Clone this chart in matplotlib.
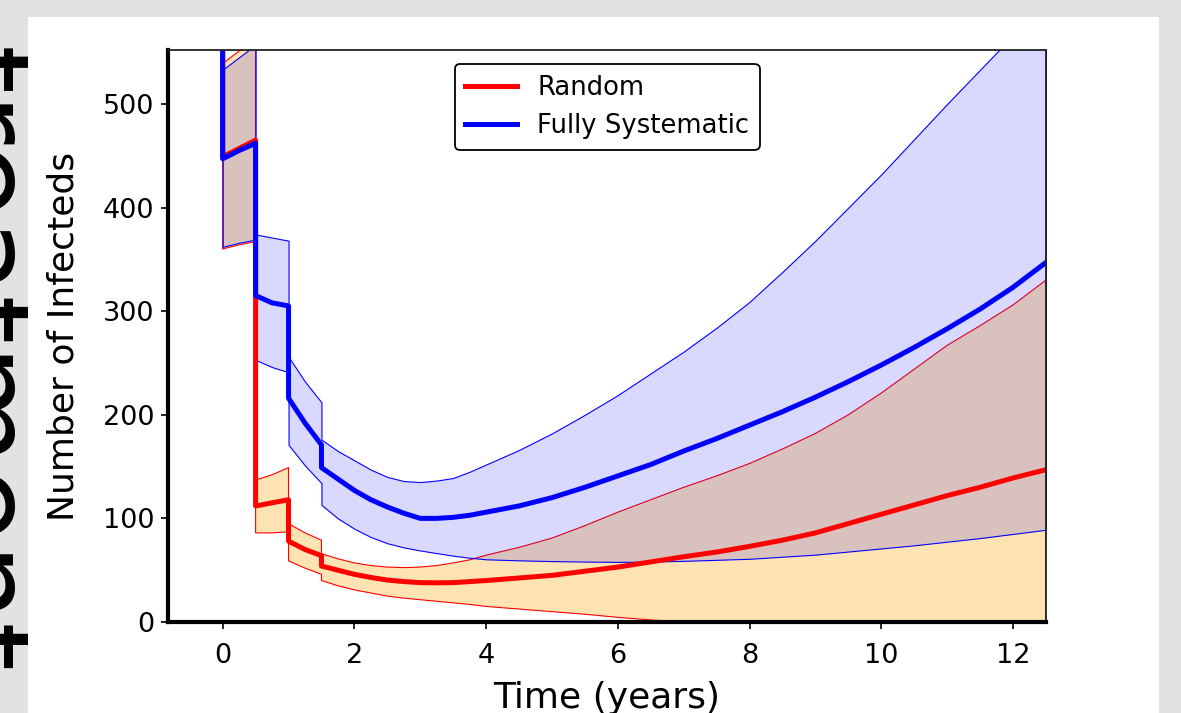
import matplotlib.pyplot as plt
from matplotlib.patches import Rectangle


# time points (years); repeated points are the treatment pulses
t = [0, 0, 0.25, 0.5, 0.5, 0.75, 1.0, 1.0, 1.25, 1.5, 1.5, 1.75, 2.0, 2.25,
     2.5, 2.75, 3.0, 3.25, 3.5, 3.75, 4.0, 4.5, 5.0, 5.5, 6.0, 6.5, 7.0, 7.5,
     8.0, 8.5, 9.0, 9.5, 10.0, 10.5, 11.0, 11.5, 12.0, 12.5]

# Random strategy: mean and band
rnd_mean = [620, 449, 457, 465, 112, 115, 118, 78, 70, 64, 54, 50, 46, 43,
            40.5, 39, 38, 37.8, 38, 39, 40, 42.5, 45, 49, 53, 58, 63, 67.5,
            73, 79, 86, 95, 104, 113, 122, 130, 139, 147]
rnd_lo = [560, 360, 364, 367, 86, 86, 87, 59, 52, 46, 40, 35, 31, 28,
          25, 23, 21.5, 20, 18.5, 17, 15, 12.5, 10, 7.5, 4.5, 2, 0, 0,
          0, 0, 0, 0, 0, 0, 0, 0, 0, 0]
rnd_hi = [700, 539, 551, 563, 137, 142, 149, 95, 86, 79, 66, 61, 57, 54.5,
          53, 52.5, 53, 54.5, 57, 60, 64.5, 72, 81, 93, 106, 118, 130, 141,
          153, 167, 182, 200, 221, 244, 267, 286, 306, 330]

# Fully systematic strategy: mean and band
sys_mean = [620, 447, 455, 462, 315, 308, 305, 216, 192, 171, 149, 138, 127, 118,
            111, 105, 100, 100, 101, 103, 106, 112, 120, 130, 141, 152, 165, 177,
            190, 203, 217, 232, 248, 265, 283, 302, 323, 347]
sys_lo = [560, 362, 366, 369, 253, 246, 241, 171, 151, 134, 113, 100, 90, 82,
          76, 72, 69, 66.5, 64, 62, 60.5, 59.5, 58.8, 58.3, 58, 58.3, 59, 60,
          61, 63, 65, 68, 71, 74, 77.5, 81, 85, 89]
sys_hi = [700, 533, 545, 557, 374, 371, 368, 256, 232, 212, 176, 165, 156, 147,
          140, 136, 135, 136.5, 139, 145, 152, 166, 182, 200, 219, 240, 261, 284,
          309, 338, 368, 400, 432, 466, 500, 533, 566, 600]

W, H = 1181, 713
fig = plt.figure(figsize=(W / 100, H / 100), dpi=100, facecolor='#e2e2e2')

# white slide panel
fig.add_artist(Rectangle((28 / W, 0), (1159 - 28) / W, 1 - 17 / H,
                         transform=fig.transFigure, facecolor='white',
                         edgecolor='none', zorder=-1))
# cut-off text on the left edge of the slide
fig.text(36 / W, 0.495, 'treatment', rotation=270, fontsize=90,
         ha='right', va='center', zorder=-2)

ax = fig.add_axes([168 / W, 1 - 622 / H, (1046 - 168) / W, (622 - 50) / H])

ax.fill_between(t, rnd_lo, rnd_hi, facecolor=(1, 0.647, 0, 0.3),
                edgecolor='red', linewidth=0.8)
ax.fill_between(t, sys_lo, sys_hi, facecolor=(0, 0, 1, 0.15),
                edgecolor='blue', linewidth=0.8)
ax.plot(t, rnd_mean, color='red', lw=3.6, label='Random')
ax.plot(t, sys_mean, color='blue', lw=3.6, label='Fully Systematic')

ax.set_xlim(-0.83, 12.5)
ax.set_ylim(0, 552)
ax.set_xticks([0, 2, 4, 6, 8, 10, 12])
ax.set_yticks([0, 100, 200, 300, 400, 500])

for s in ['left', 'bottom']:
    ax.spines[s].set_linewidth(3)
    ax.spines[s].set_color('black')
for s in ['top', 'right']:
    ax.spines[s].set_linewidth(1.3)
    ax.spines[s].set_color('#222222')

ax.tick_params(labelsize=19.5, length=5, width=1.2)
ax.tick_params(axis='x', pad=10)
ax.tick_params(axis='y', pad=5)
ax.set_xlabel('Time (years)', fontsize=26, labelpad=9)
ax.set_ylabel('Number of Infecteds', fontsize=26, labelpad=16)

leg = ax.legend(loc='upper center', fontsize=18.6, framealpha=1,
                borderaxespad=0.55)
leg.get_frame().set_edgecolor('black')
leg.get_frame().set_linewidth(1.3)

plt.savefig('out.png', dpi=100, facecolor=fig.get_facecolor())
